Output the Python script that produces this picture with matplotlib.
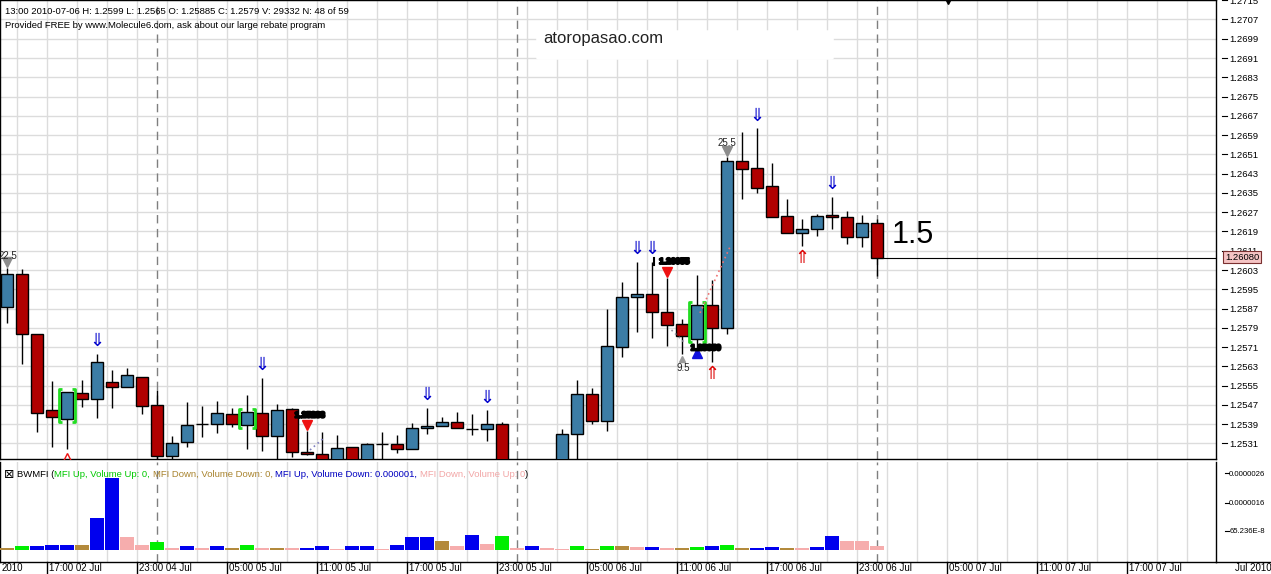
import numpy as np
import matplotlib.pyplot as plt
import matplotlib.patheffects as pe
from matplotlib.patches import FancyBboxPatch
from matplotlib.transforms import offset_copy, blended_transform_factory

plt.rcParams['font.family'] = ['Liberation Sans', 'DejaVu Sans']

W, H = 1271, 574  # 图片像素尺寸

# 小时K线 (0..58), 34-36 在可视范围之下
opens = [1.25875, 1.26014, 1.25763, 1.25448, 1.25413, 1.25518, 1.25494, 1.25564, 1.25543, 1.25585,
         1.25470, 1.25259, 1.25315, 1.25390, 1.25390, 1.25431, 1.25387, 1.25435, 1.25340, 1.25452,
         1.25276, 1.25265, 1.25225, 1.25294, 1.25225, 1.25306, 1.25308, 1.25286, 1.25373, 1.25383,
         1.25399, 1.25369, 1.25369, 1.25391, 1.25210, 1.25150, 1.25180, 1.25210, 1.25348, 1.25515,
         1.25405, 1.25709, 1.25918, 1.25931, 1.25855, 1.25805, 1.25743, 1.25885, 1.25791, 1.26481,
         1.26452, 1.26378, 1.26253, 1.26183, 1.26199, 1.26257, 1.26249, 1.26166, 1.26224]
highs = [1.26038, 1.26034, 1.25763, 1.25569, 1.25523, 1.25574, 1.25682, 1.25615, 1.25623, 1.25585,
         1.25532, 1.25341, 1.25482, 1.25467, 1.25486, 1.25457, 1.25511, 1.25583, 1.25474, 1.25457,
         1.25362, 1.25358, 1.25344, 1.25294, 1.25312, 1.25358, 1.25344, 1.25395, 1.25459, 1.25419,
         1.25441, 1.25432, 1.25449, 1.25400, 1.25230, 1.25200, 1.25230, 1.25370, 1.25574, 1.25539,
         1.25868, 1.25980, 1.26065, 1.26065, 1.25998, 1.25826, 1.26009, 1.25990, 1.26498, 1.26602,
         1.26618, 1.26473, 1.26324, 1.26242, 1.26263, 1.26334, 1.26275, 1.26259, 1.26242]
lows = [1.25811, 1.25640, 1.25359, 1.25294, 1.25286, 1.25463, 1.25417, 1.25459, 1.25543, 1.25432,
        1.25230, 1.25220, 1.25297, 1.25338, 1.25355, 1.25380, 1.25286, 1.25280, 1.25230, 1.25253,
        1.25262, 1.25200, 1.25215, 1.25200, 1.25210, 1.25240, 1.25272, 1.25286, 1.25348, 1.25383,
        1.25373, 1.25344, 1.25319, 1.25190, 1.25120, 1.25100, 1.25140, 1.25180, 1.25230, 1.25390,
        1.25363, 1.25670, 1.25774, 1.25749, 1.25716, 1.25682, 1.25701, 1.25650, 1.25763, 1.26324,
        1.26351, 1.26251, 1.26183, 1.26131, 1.26173, 1.26200, 1.26138, 1.26127, 1.26007]
closes = [1.26014, 1.25763, 1.25435, 1.25419, 1.25523, 1.25494, 1.25647, 1.25543, 1.25593, 1.25464,
          1.25259, 1.25311, 1.25387, 1.25391, 1.25435, 1.25390, 1.25440, 1.25340, 1.25448, 1.25273,
          1.25266, 1.25220, 1.25293, 1.25220, 1.25308, 1.25309, 1.25286, 1.25373, 1.25383, 1.25399,
          1.25373, 1.25371, 1.25391, 1.25220, 1.25150, 1.25180, 1.25210, 1.25348, 1.25515, 1.25405,
          1.25713, 1.25917, 1.25929, 1.25856, 1.25801, 1.25756, 1.25884, 1.25790, 1.26483, 1.26451,
          1.26372, 1.26251, 1.26183, 1.26199, 1.26256, 1.26249, 1.26166, 1.26224, 1.26080]

# BW MFI 柱 (单位 1e-6) 和类别
mfi = [0.08, 0.12, 0.15, 0.18, 0.18, 0.18, 1.07, 2.43, 0.43, 0.18,
       0.28, 0.08, 0.15, 0.08, 0.12, 0.08, 0.18, 0.08, 0.08, 0.08,
       0.08, 0.15, 0.05, 0.12, 0.12, 0.05, 0.18, 0.43, 0.43, 0.31,
       0.15, 0.50, 0.21, 0.47, 0.08, 0.12, 0.08, 0.05, 0.12, 0.05,
       0.15, 0.12, 0.09, 0.09, 0.06, 0.06, 0.09, 0.12, 0.16, 0.06,
       0.06, 0.09, 0.06, 0.06, 0.09, 0.49, 0.29, 0.29, 0.12]
mfi_kind = ['dd', 'uu', 'ud', 'ud', 'ud', 'dd', 'ud', 'ud', 'du', 'du',
            'uu', 'du', 'ud', 'du', 'ud', 'dd', 'uu', 'du', 'dd', 'du',
            'ud', 'ud', 'du', 'ud', 'ud', 'du', 'ud', 'ud', 'ud', 'dd',
            'du', 'ud', 'du', 'uu', 'du', 'ud', 'du', 'du', 'uu', 'dd',
            'uu', 'dd', 'du', 'ud', 'du', 'dd', 'uu', 'ud', 'uu', 'dd',
            'ud', 'ud', 'dd', 'du', 'ud', 'ud', 'du', 'du', 'du']
mfi_colors = {'uu': '#00EE00', 'dd': '#B38A3C', 'ud': '#0000EE', 'du': '#F6ADAD'}

# 信号
down_arrows = [6, 17, 28, 32, 42, 43, 50, 55]
up_arrows = [47, 53]
bracket_bars = [4, 16, 46]
session_bars = [10, 34, 58]
price_ticks = np.round(np.arange(1.2531, 1.2716, 0.0008), 4)
time_labels = ['17:00 02 Jul', '23:00 04 Jul', '05:00 05 Jul', '11:00 05 Jul', '17:00 05 Jul',
               '23:00 05 Jul', '05:00 06 Jul', '11:00 06 Jul', '17:00 06 Jul', '23:00 06 Jul',
               '05:00 07 Jul', '11:00 07 Jul', '17:00 07 Jul']
last_price = 1.26080
mfi_ticks = [2.6, 1.6, 0.65236]
mfi_tick_labels = ['0.0000026', '0.0000016', '65.236E-8']

blue_body = '#3C7DA6'
red_body = '#B00000'
grid_c = '#DCDCDC'


def fx(x):
    return x / W


def fy(y):
    return 1 - y / H


fig = plt.figure(figsize=(W / 100, H / 100), dpi=100)
ax = fig.add_axes([0, fy(459), fx(1216), 459 / H])
ax2 = fig.add_axes([0, fy(562), fx(1216), 100 / H])

n = len(opens)
idx = np.arange(n)
o = np.array(opens)
c = np.array(closes)
xmin, xmax = -7 / 15, (1216 - 7) / 15
grid_x = np.arange(2 / 3, xmax, 2)

# ---- 主图 ----
ax.set_xlim(xmin, xmax)
ax.set_ylim(1.252456, 1.271509)
ax.vlines(idx, lows, highs, color='black', lw=1, zorder=2)
cols = [blue_body if c[i] >= o[i] else red_body for i in idx]
ax.bar(idx, c - o, bottom=o, width=0.8, color=cols, edgecolor='black', linewidth=1, zorder=3)

ax.set_xticks(grid_x)
ax.set_xticklabels([])
ax.set_yticks(price_ticks)
ax.set_yticklabels([f'{p:.4f}' for p in price_ticks], fontsize=6.8)
ax.yaxis.tick_right()
ax.tick_params(axis='both', length=0)
ax.tick_params(axis='y', pad=9.5)
ax.grid(True, color=grid_c, lw=1, zorder=0)
ax.set_axisbelow(True)
for s in ax.spines.values():
    s.set_color('black')
    s.set_linewidth(1)
bt = blended_transform_factory(ax.transAxes, ax.transData)
for p in price_ticks:
    ax.plot([1222 / 1216, 1227 / 1216], [p, p], color='black', lw=0.8, transform=bt, clip_on=False)

for b in session_bars:
    ax.axvline(b, color='#7F7F7F', lw=1, ls=(0, (6, 4)), zorder=1)
    ax2.axvline(b, color='#7F7F7F', lw=1, ls=(0, (6, 4)), zorder=1)

# 信号箭头
for b in down_arrows:
    ax.annotate('⇓', (b, highs[b]), xytext=(0, 12), textcoords='offset pixels',
                ha='center', va='center', color='#0000CC', fontsize=13, zorder=5)
for b in up_arrows:
    ax.annotate('⇑', (b, lows[b]), xytext=(0, -13), textcoords='offset pixels',
                ha='center', va='center', color='#DD0000', fontsize=13, zorder=5)

# 绿色括号
for b in bracket_bars:
    top = max(o[b], c[b]) + 3 / 24090
    bot = min(o[b], c[b]) - 3 / 24090
    for side in (-1, 1):
        xe = b + side * 0.55
        ax.plot([xe - side * 0.2, xe, xe, xe - side * 0.2], [top, top, bot, bot],
                color='#22DD22', lw=2, zorder=4, solid_capstyle='butt')


def mark(b, p, dy, m, col, ms=7, filled=True):
    tr = offset_copy(ax.transData, fig=fig, x=0, y=dy, units='dots')
    ax.plot(b, p, marker=m, ms=ms, color=col, mfc=col if filled else 'none',
            mew=1, transform=tr, zorder=5, clip_on=True)


mark(0, highs[0], 6, 'v', '#8C8C8C')
mark(48, highs[48], 6, 'v', '#8C8C8C')
mark(20, highs[20], 6, 'v', '#EE1111')
mark(44, highs[44], 6, 'v', '#EE1111')
mark(46, lows[46], -4, '^', '#1111DD')
mark(45, lows[45], -5, '^', '#9A9A9A', ms=5)
mark(4, lows[4], -8, '^', '#EE1111', ms=6, filled=False)
mark(62.7, 1.27158, 0, 'v', 'black', ms=9)

ax.annotate('22.5', (0, highs[0]), xytext=(1, 12), textcoords='offset pixels',
            ha='center', va='center', fontsize=7, color='#222222', zorder=6)
ax.annotate('25.5', (48, highs[48]), xytext=(0, 14), textcoords='offset pixels',
            ha='center', va='center', fontsize=7, color='#222222', zorder=6)
ax.annotate('9.5', (45, lows[45]), xytext=(1, -14), textcoords='offset pixels',
            ha='center', va='center', fontsize=7, color='#222222', zorder=6)

# 重叠的黑色数字标签
smudge = [pe.withStroke(linewidth=1.6, foreground='black')]
for b, p, s in [(20.2, 1.25424, '1.25288'), (44.5, 1.26062, '1.26055'), (46.6, 1.25703, '1.25650')]:
    ax.text(b, p, s, fontsize=6, ha='center', va='center', color='black', fontweight='bold',
            path_effects=smudge, zorder=6)
ax.plot([43.1, 43.1], [1.26049, 1.26082], color='black', lw=1.5, zorder=6)

# 点线
ax.plot([46.2, 48.2], [1.25852, 1.26126], color='#F07070', lw=1.2, ls=(0, (1, 2)), zorder=4)
ax.plot([44.3, 45.2], [1.25781, 1.25727], color='#9090A0', lw=1.2, ls=(0, (1, 2)), zorder=4)
ax.plot([20.2, 21.2], [1.25283, 1.25337], color='#8080C0', lw=1.2, ls=(0, (1, 2)), zorder=4)

# 最新价
ax.hlines(last_price, 58.4, xmax, color='black', lw=0.8, zorder=4)
fig.text(fx(1242), fy(257), f'{last_price:.5f}', fontsize=6.8, ha='center', va='center',
         bbox=dict(boxstyle='square,pad=0.15', fc='#F5C4C4', ec='#7A3030', lw=0.8))
fig.text(fx(892), fy(235), '1.5', fontsize=22, ha='left', va='center', color='black')

# 标题
fig.text(fx(5), fy(11), '13:00 2010-07-06 H: 1.2599 L: 1.2565 O: 1.25885 C: 1.2579 V: 29332 N: 48 of 59',
         fontsize=6.8, va='center', ha='left')
fig.text(fx(5), fy(25), 'Provided FREE by www.Molecule6.com, ask about our large rebate program',
         fontsize=6.8, va='center', ha='left')
box = FancyBboxPatch((fx(540), fy(58)), fx(290), 26 / H, boxstyle='round,pad=0.003',
                     transform=fig.transFigure, fc='white', ec='none', zorder=2)
fig.patches.append(box)
fig.text(fx(543), fy(39), 'atoropasao.com', fontsize=12, va='center', ha='left', color='#222222', zorder=3)

# ---- MFI 副图 ----
ax2.set_xlim(xmin, xmax)
ax2.set_ylim(-12 / 29.5, 88 / 29.5)
ax2.bar(idx, mfi, width=0.88, color=[mfi_colors[k] for k in mfi_kind], zorder=3)
ax2.set_xticks(grid_x)
ax2.set_xticklabels([])
ax2.grid(True, axis='x', color=grid_c, lw=1, zorder=0)
ax2.set_axisbelow(True)
ax2.yaxis.tick_right()
ax2.set_yticks(mfi_ticks)
ax2.set_yticklabels(mfi_tick_labels, fontsize=5.6)
ax2.tick_params(axis='both', length=0)
ax2.tick_params(axis='y', pad=9.5)
ax2.spines['top'].set_visible(False)
for s in ax2.spines.values():
    s.set_color('black')
    s.set_linewidth(1)
bt2 = blended_transform_factory(ax2.transAxes, ax2.transData)
for t in mfi_ticks:
    ax2.plot([1225 / 1216, 1229 / 1216], [t, t], color='black', lw=0.8, transform=bt2, clip_on=False)

# 彩色图例文字
fig.text(fx(9), fy(474), '⊠', fontsize=9, va='center', ha='center', family='DejaVu Sans')
parts = [('BWMFI (', 'black'), ('MFI Up, Volume Up: 0, ', '#00C800'),
         ('MFI Down, Volume Down: 0, ', '#A8832E'), ('MFI Up, Volume Down: 0.000001, ', '#0000C0'),
         ('MFI Down, Volume Up: 0', '#F2A6A6'), (')', 'black')]
anchor = fig.text(fx(17), fy(479), parts[0][0], fontsize=6.8, va='bottom', ha='left', color=parts[0][1])
for s, col in parts[1:]:
    anchor = ax2.annotate(s, xy=(1, 0), xycoords=anchor, va='bottom', ha='left',
                          fontsize=6.8, color=col, annotation_clip=False)

# 时间轴
sep_x = 2 / 3 + 2 + 6 * np.arange(len(time_labels))
bx = blended_transform_factory(ax2.transData, ax2.transAxes)
for xs, lab in zip(sep_x, time_labels):
    ax2.plot([xs, xs], [0, -0.12], color='black', lw=1, transform=bx, clip_on=False)
    ax2.text(xs + 0.15, -0.06, lab, transform=bx, fontsize=7, va='center', ha='left', clip_on=False)
fig.text(fx(2), fy(568), '2010', fontsize=7, va='center', ha='left')
fig.text(fx(1235), fy(568), 'Jul 2010', fontsize=7, va='center', ha='left')
fig.add_artist(plt.Line2D([fx(1216), 1], [fy(562), fy(562)], color='black', lw=1,
                          transform=fig.transFigure))

fig.savefig('out.png', dpi=100)
